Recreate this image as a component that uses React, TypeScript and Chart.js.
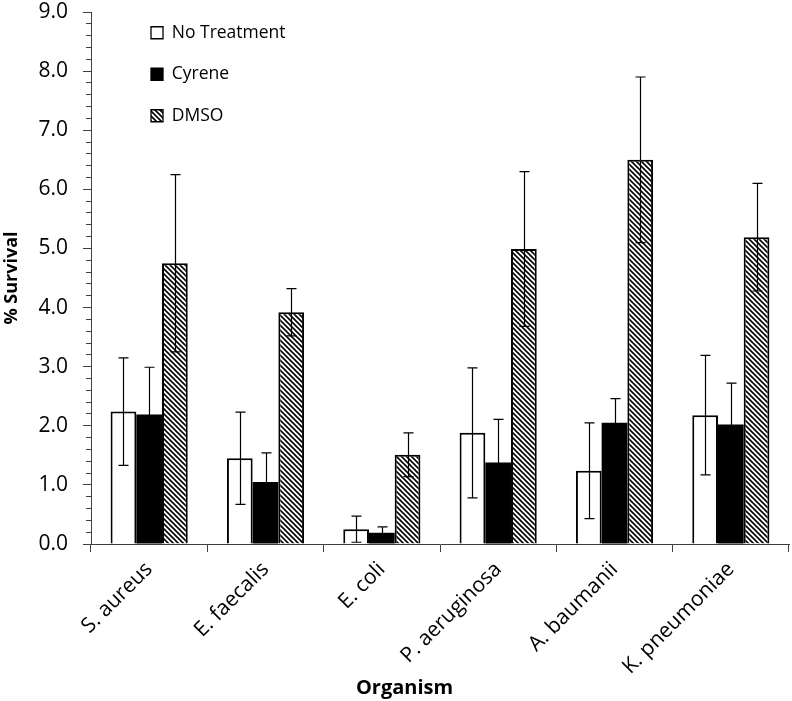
import React, { useEffect, useRef } from 'react';
import { Chart, registerables } from 'chart.js';

Chart.register(...registerables);

const categories = ['S. aureus', 'E. faecalis', 'E. coli', 'P. aeruginosa', 'A. baumanii', 'K. pneumoniae'];
const seriesNames = ['No Treatment', 'Cyrene', 'DMSO'];
const noTreatment = [2.24, 1.45, 0.25, 1.88, 1.24, 2.18];
const cyrene = [2.19, 1.05, 0.19, 1.38, 2.05, 2.02];
const dmso = [4.75, 3.92, 1.51, 4.99, 6.5, 5.19];
const noTreatmentErr = [0.91, 0.78, 0.22, 1.1, 0.81, 1.01];
const cyreneErr = [0.8, 0.49, 0.1, 0.73, 0.41, 0.7];
const dmsoErr = [1.5, 0.4, 0.37, 1.31, 1.4, 0.91];
const yMin = 0;
const yMax = 9;
const yMajorStep = 1;
const yMinorStep = 0.2;
const xTitle = 'Organism';
const yTitle = '% Survival';

const FONT = "'Open Sans', sans-serif";
const AXIS = '#404040';

function makeHatch(): CanvasPattern | string {
  const c = document.createElement('canvas');
  const s = 5;
  c.width = s;
  c.height = s;
  const g = c.getContext('2d');
  if (!g) return '#888';
  g.fillStyle = '#fff';
  g.fillRect(0, 0, s, s);
  g.strokeStyle = '#000';
  g.lineWidth = 1.6;
  g.beginPath();
  g.moveTo(-1, -1);
  g.lineTo(s + 1, s + 1);
  g.moveTo(-2, s - 2);
  g.lineTo(2, s + 2);
  g.moveTo(s - 2, -2);
  g.lineTo(s + 2, 2);
  g.stroke();
  const ctx = document.createElement('canvas').getContext('2d');
  const p = ctx ? ctx.createPattern(c, 'repeat') : null;
  return p || '#888';
}

export default function App() {
  const ref = useRef<HTMLCanvasElement | null>(null);

  useEffect(() => {
    if (!ref.current) return;
    const hatch = makeHatch();
    const errors = [noTreatmentErr, cyreneErr, dmsoErr];

    const errorBars = {
      id: 'errorBars',
      afterDatasetsDraw(chart: any) {
        const ctx = chart.ctx;
        const y = chart.scales.y;
        ctx.save();
        ctx.strokeStyle = '#000000';
        ctx.lineWidth = 1.2;
        chart.data.datasets.forEach((ds: any, i: number) => {
          const meta = chart.getDatasetMeta(i);
          meta.data.forEach((bar: any, j: number) => {
            const v = ds.data[j];
            const e = errors[i][j];
            const x = Math.round(bar.x) + 0.5;
            const yTop = y.getPixelForValue(v + e);
            const yBot = y.getPixelForValue(Math.max(0, v - e));
            const cap = 5;
            ctx.beginPath();
            ctx.moveTo(x, yTop);
            ctx.lineTo(x, yBot);
            ctx.moveTo(x - cap, yTop);
            ctx.lineTo(x + cap, yTop);
            ctx.moveTo(x - cap, yBot);
            ctx.lineTo(x + cap, yBot);
            ctx.stroke();
          });
        });
        ctx.restore();
      },
    };

    const legendPlace = {
      id: 'legendPlace',
      beforeDraw(chart: any) {
        const lg = chart.legend;
        if (!lg) return;
        const h = lg.height;
        lg.left = 127;
        lg.right = lg.left + lg.width;
        lg.top = 0;
        lg.bottom = h;
      },
    };

    const chart = new Chart(ref.current, {
      type: 'bar',
      data: {
        labels: categories,
        datasets: [
          {
            label: seriesNames[0],
            data: noTreatment,
            backgroundColor: '#ffffff',
            borderColor: '#000000',
            borderWidth: 2,
          },
          {
            label: seriesNames[1],
            data: cyrene,
            backgroundColor: '#000000',
            borderColor: '#000000',
            borderWidth: 0,
          },
          {
            label: seriesNames[2],
            data: dmso,
            backgroundColor: hatch as any,
            borderColor: '#000000',
            borderWidth: 2,
          },
        ],
      },
      options: {
        responsive: false,
        animation: false,
        devicePixelRatio: 1,
        layout: { padding: { left: 20, right: 3, top: 12, bottom: 0 } },
        datasets: {
          bar: { categoryPercentage: 0.663, barPercentage: 1, borderSkipped: 'start' },
        },
        plugins: {
          tooltip: { enabled: false },
          legend: {
            position: 'chartArea',
            align: 'start',
            labels: {
              color: '#000',
              font: { family: FONT, size: 17.5 },
              boxWidth: 12,
              boxHeight: 12,
              padding: 24,
              generateLabels(chart: any) {
                const items = Chart.defaults.plugins.legend.labels.generateLabels(chart);
                return items.map((it: any) => ({ ...it, lineWidth: 1.3 }));
              },
            },
          },
          title: {
            display: true,
            position: 'bottom',
            text: xTitle,
            color: '#000',
            font: { family: FONT, size: 20, weight: 'bold' },
            padding: { top: 0, bottom: 1 },
          },
        },
        scales: {
          x: {
            grid: {
              drawOnChartArea: false,
              offset: true,
              tickLength: 8,
              tickColor: AXIS,
              lineWidth: 1,
            },
            border: { display: true, color: AXIS, width: 1 },
            ticks: {
              color: '#000',
              font: { family: FONT, size: 21 },
              minRotation: 45,
              maxRotation: 45,
              padding: 5,
              autoSkip: false,
            },
            afterFit(s: any) {
              s.height = 132;
              s.paddingLeft = 0;
              s.paddingRight = 0;
            },
          },
          y: {
            position: 'left',
            weight: 10,
            min: yMin,
            max: yMax,
            grid: {
              drawOnChartArea: false,
              tickLength: 8,
              tickColor: AXIS,
              lineWidth: 1,
            },
            border: { display: true, color: AXIS, width: 1 },
            ticks: {
              stepSize: yMajorStep,
              color: '#000',
              font: { family: FONT, size: 21 },
              padding: 15,
              callback: (v: any) => Number(v).toFixed(1),
            },
            title: {
              display: true,
              text: yTitle,
              color: '#000',
              font: { family: FONT, size: 18, weight: 'bold' },
              padding: { top: -19, bottom: 0 },
            },
            afterFit(s: any) {
              s.width = 71;
              s.paddingTop = 0;
              s.paddingBottom = 0;
            },
          },
          yMinor: {
            position: 'left',
            weight: 0,
            min: yMin,
            max: yMax,
            grid: {
              drawOnChartArea: false,
              tickLength: 5,
              tickColor: AXIS,
              lineWidth: 1,
            },
            border: { display: false },
            ticks: { stepSize: yMinorStep, display: false, maxTicksLimit: 100 },
            afterFit(s: any) {
              s.width = 0;
              s.paddingTop = 0;
              s.paddingBottom = 0;
            },
          },
        },
      },
      plugins: [errorBars, legendPlace],
    } as any);

    return () => chart.destroy();
  }, []);

  return (
    <div style={{ position: 'absolute', left: 0, top: 0, width: 792, height: 701, background: '#fff' }}>
      <canvas ref={ref} width={792} height={701} style={{ width: 792, height: 701, display: 'block' }} />
    </div>
  );
}
